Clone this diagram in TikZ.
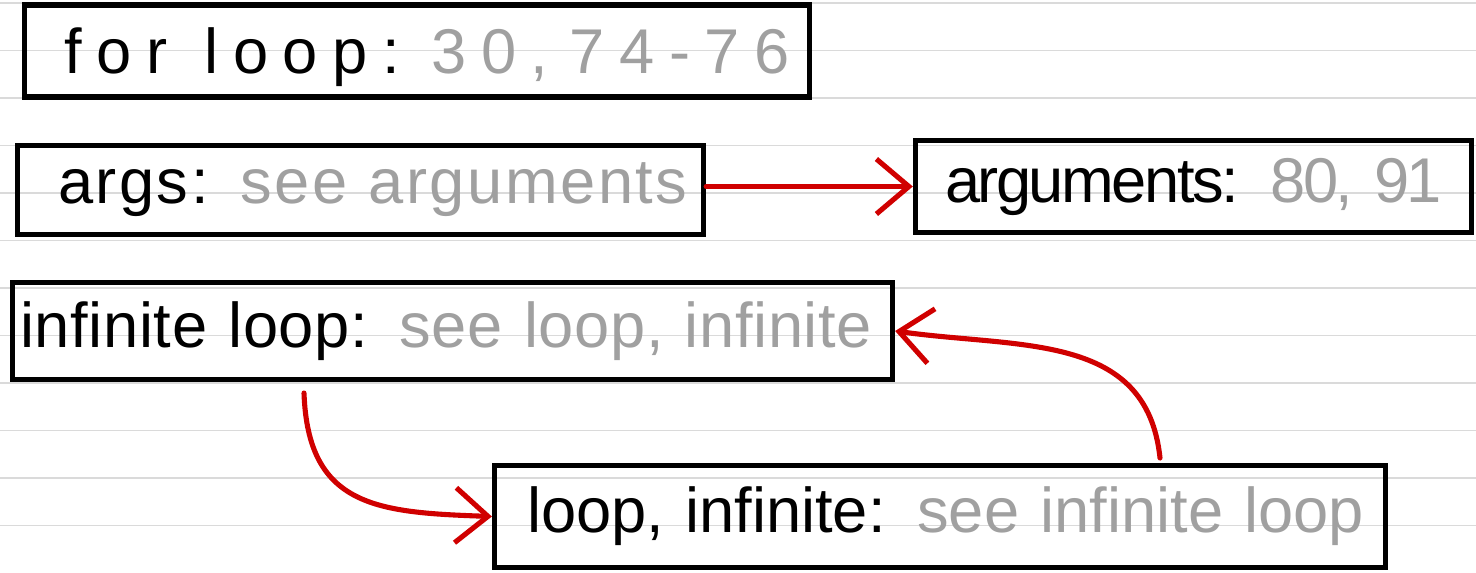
\documentclass[tikz,border=0pt]{standalone}
\usepackage{fontspec}
\setmainfont{Liberation Sans}
\usetikzlibrary{arrows.meta}

\definecolor{inkgray}{RGB}{160,160,160}
\definecolor{inkred}{RGB}{208,0,0}
\definecolor{paperline}{RGB}{218,218,218}

% black term, then the gray page numbers / see-also
\newcommand{\entrytext}[3]{\mbox{\addfontfeatures{LetterSpace=#1}#2\textcolor{inkgray}{#3}}}

\begin{document}
\begin{tikzpicture}[
    x=0.02cm, y=-0.02cm,
    font=\fontsize{36}{42}\selectfont,
    entry/.style={draw=black, line width=3.1pt, rectangle, align=left, inner ysep=0pt},
    ruling/.style={draw=paperline, line width=1.1pt},
    link/.style={-{Straight Barb[length=0.65cm, width=1.1cm]}, draw=inkred, line width=2.9pt, line cap=round}
]
\useasboundingbox (0,0) rectangle (1476,572);

% ====================
%    Notebook paper
% ====================
\foreach \k in {0,...,11}
    \draw[ruling] (0,{3+47.5*\k}) -- (1476,{3+47.5*\k});

% ====================
%    Index entries
% ====================
\node[entry, minimum height=1.84cm, text width=14.09cm, inner xsep=0.81cm, text depth=0pt] (forloop) at (417,51)
    {\entrytext{23}{for\hspace{0.25em} loop: }{30, 74-76}};
\node[entry, minimum height=1.78cm, text width=12.1cm, inner xsep=0.81cm] (args) at (360.5,190)
    {\entrytext{4}{args: }{see arguments}};
\node[entry, minimum height=1.84cm, text width=9.94cm, inner xsep=0.59cm] (arguments) at (1193.5,186.5)
    {\entrytext{-4}{arguments: }{80, 91}};
\node[entry, minimum height=1.94cm, text width=17.3cm, inner xsep=0.15cm] (infloop) at (452.5,331)
    {\entrytext{1}{infinite loop: }{see loop, infinite}};
\node[entry, minimum height=2.04cm, text width=16.52cm, inner xsep=0.65cm] (loopinf) at (940,516.5)
    {\entrytext{0}{loop, infinite: }{see infinite loop}};

% Free ends of the hand-drawn arrows
\coordinate (inftail) at (304,393);
\coordinate (looptail) at (1160,458);

% Connections
\draw[link] (args.east |- arguments) -- (arguments.west);
\draw[link] (inftail) to[out=-88, in=178, looseness=1.3] (loopinf.west);
\draw[link] (looptail) to[out=96, in=-8, looseness=1.1] (infloop.east);

\end{tikzpicture}
\end{document}
